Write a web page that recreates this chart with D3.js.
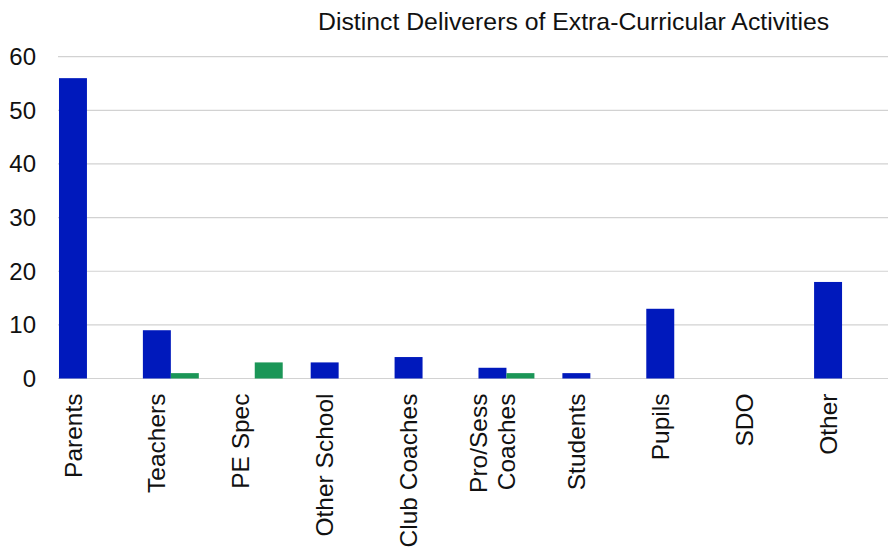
<!DOCTYPE html>
<html>
<head>
<meta charset="utf-8">
<script src="https://cdn.jsdelivr.net/npm/d3@7"></script>
<style>
  html, body { margin: 0; padding: 0; background: #fff; }
  svg { display: block; font-family: "Liberation Sans", Arial, sans-serif; }
</style>
</head>
<body>
<svg id="chart" width="888" height="551"></svg>
<script>
// Deliverer categories (label lines) and the two series
const categories = [
  ["Parents"], ["Teachers"], ["PE Spec"], ["Other School"], ["Club Coaches"],
  ["Pro/Sess", "Coaches"], ["Students"], ["Pupils"], ["SDO"], ["Other"]
];
const seriesA = [56, 9, 0, 3, 4, 2, 1, 13, 0, 18];
const seriesB = [0, 1, 3, 0, 0, 1, 0, 0, 0, 0];
const yTicks = [0, 10, 20, 30, 40, 50, 60];
const title = "Distinct Deliverers of Extra-Curricular Activities";

const colors = { a: "#0019BC", b: "#1B9657" };

const svg = d3.select("#chart");
const keys = categories.map(c => c.join(" "));

const x0 = d3.scaleBand().domain(keys).range([45, 884]).padding(0);
const bw = x0.bandwidth();
const x1 = d3.scaleBand().domain(["a", "b"]).range([bw / 6, bw * 5 / 6]).padding(0);
const y = d3.scaleLinear().domain([0, 60]).range([378.5, 56.7]);

// horizontal gridlines
svg.append("g")
  .selectAll("line")
  .data(yTicks)
  .join("line")
  .attr("x1", 58).attr("x2", 888)
  .attr("y1", d => y(d)).attr("y2", d => y(d))
  .attr("stroke", "#d2d2d2")
  .attr("stroke-width", 1.2);

// y-axis labels
svg.append("g")
  .selectAll("text")
  .data(yTicks)
  .join("text")
  .attr("x", 36)
  .attr("y", d => y(d))
  .attr("dy", "0.35em")
  .attr("text-anchor", "end")
  .attr("font-size", 24)
  .attr("fill", "#111")
  .text(d => d);

// bars
const rows = keys.map((k, i) => ({ key: k, a: seriesA[i], b: seriesB[i] }));
const groups = svg.append("g")
  .selectAll("g")
  .data(rows)
  .join("g")
  .attr("transform", d => `translate(${x0(d.key)},0)`);

groups.selectAll("rect")
  .data(d => ["a", "b"].map(s => ({ s, v: d[s] })).filter(e => e.v > 0))
  .join("rect")
  .attr("x", e => x1(e.s))
  .attr("width", x1.bandwidth())
  .attr("y", e => y(e.v))
  .attr("height", e => y(0) - y(e.v))
  .attr("fill", e => colors[e.s]);

// rotated category labels
const labels = svg.append("g")
  .selectAll("g")
  .data(categories)
  .join("g")
  .attr("transform", (c, i) => {
    const cx = x0(keys[i]) + x1("a") + x1.bandwidth() / 2;
    return `translate(${cx},393.5) rotate(-90)`;
  });

labels.each(function (lines) {
  const g = d3.select(this);
  const lh = 28;
  const off = -(lines.length - 1) * lh / 2;
  lines.forEach((t, j) => {
    g.append("text")
      .attr("x", 0)
      .attr("y", off + j * lh)
      .attr("dy", "0.35em")
      .attr("text-anchor", "end")
      .attr("font-size", 24.5)
      .attr("fill", "#111")
      .text(t);
  });
});

// title
svg.append("text")
  .attr("x", 318)
  .attr("y", 30)
  .attr("font-size", 24.8)
  .attr("fill", "#111")
  .text(title);
</script>
</body>
</html>
